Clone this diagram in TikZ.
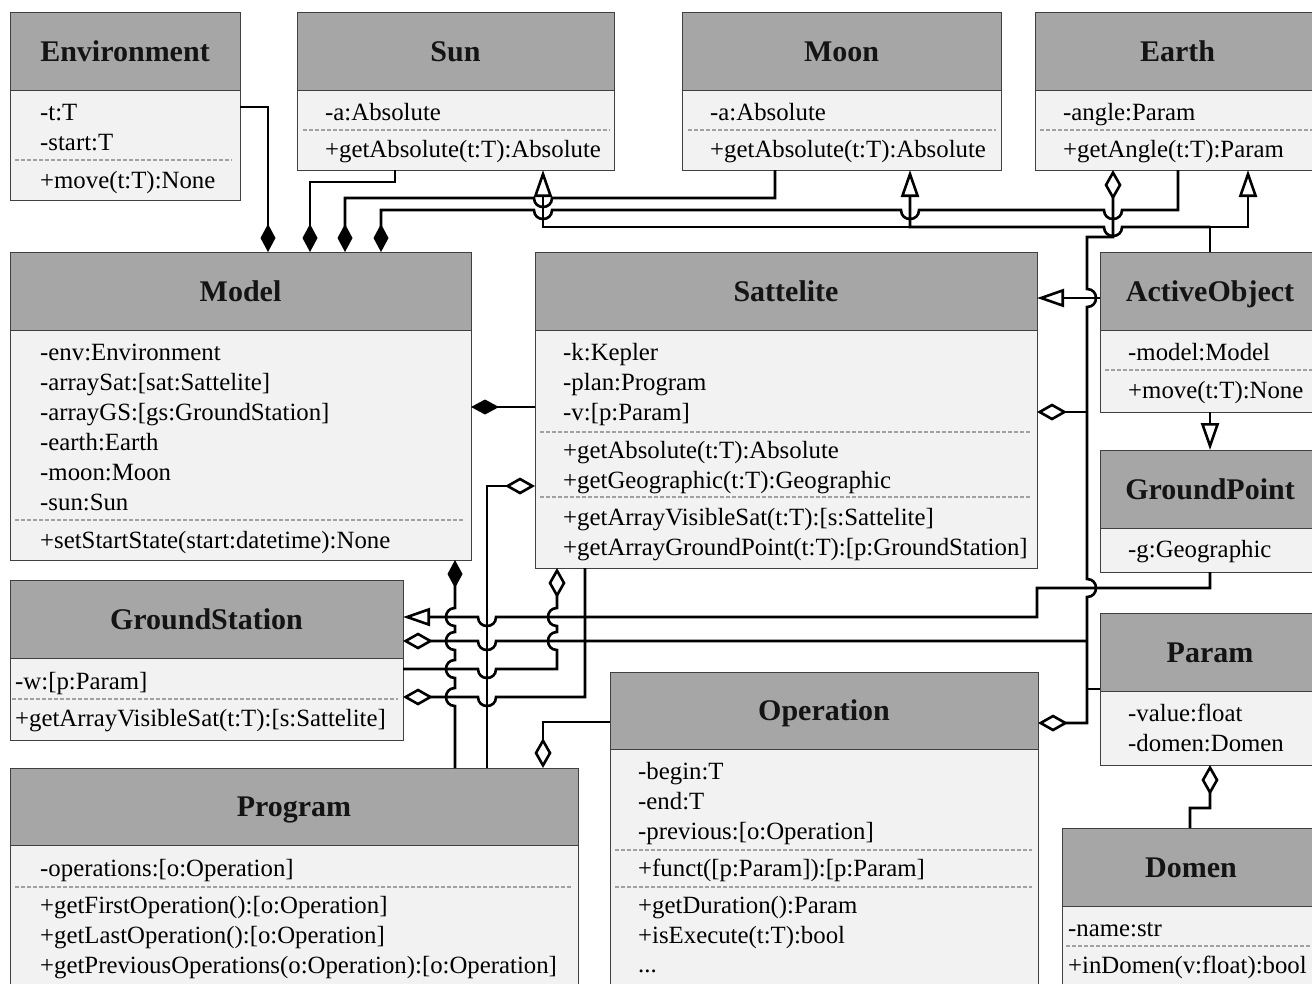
\documentclass[tikz,border=0pt]{standalone}
\usepackage{fontspec}
\setmainfont{Liberation Serif}
\usetikzlibrary{arrows.meta}
\definecolor{hdrgray}{HTML}{A6A6A6}
\definecolor{bodygray}{HTML}{F2F2F2}
\definecolor{edgegray}{HTML}{404040}
\definecolor{dashgray}{HTML}{A0A0A0}
\tikzset{
 FDia/.tip={Diamond[length=28bp,width=15bp]},
 ODia/.tip={Diamond[open,fill=white,length=30bp,width=17bp]},
 OTri/.tip={Triangle[open,fill=white,length=27bp,width=18bp]},
 hdr/.style={draw=edgegray, line width=1bp, fill=hdrgray, inner sep=0pt, outer sep=0pt,
   font=\fontsize{30bp}{33bp}\selectfont\bfseries, text height=20bp, text depth=0pt, text=black!92},
 bdy/.style={draw=edgegray, line width=1bp, fill=bodygray, inner sep=0pt, outer sep=0pt},
 attr/.style={anchor=base west, inner sep=0pt, font=\fontsize{24.8bp}{28bp}\selectfont},
 sepline/.style={dashgray, line width=1.5bp, dash pattern=on 4bp off 2bp},
 conn/.style={black, line width=2.6bp},
 hl/.style 2 args={insert path={-- (#1+9,#2) .. controls (#1+9,#2+12) and (#1-9,#2+12) .. (#1-9,#2)}},
 vdl/.style 2 args={insert path={-- (#1,#2-9) .. controls (#1-12,#2-9) and (#1-12,#2+9) .. (#1,#2+9)}},
 vdr/.style 2 args={insert path={-- (#1,#2-9) .. controls (#1+12,#2-9) and (#1+12,#2+9) .. (#1,#2+9)}},
}
\newcommand\umlclass[7]{%
 \node[hdr, anchor=north west, minimum width=#4bp, minimum height=#5bp] (#1H) at (#2,#3) {#7};
 \node[bdy, anchor=north, minimum width=#4bp, minimum height=#6bp] (#1B) at (#1H.south) {};
}
\newcommand\attrline[4]{\node[attr] (#1) at (#2,#3+8) {#4};}
\newcommand\dashsep[3]{\draw[sepline] (#1,#3) -- (#2,#3);}
\begin{document}
\begin{tikzpicture}[x=1bp,y=-1bp]
\useasboundingbox (0,0) rectangle (1312,983);
\clip (0,0) rectangle (1312,983);
\fill[white] (0,0) rectangle (1312,983);

% classes
\umlclass{env}{10}{12}{230}{78}{110}{Environment}
\umlclass{sun}{297}{12}{317}{78}{80}{Sun}
\umlclass{moon}{682}{12}{319}{78}{80}{Moon}
\umlclass{earth}{1035}{12}{285}{78}{80}{Earth}
\umlclass{model}{10}{252}{461}{78}{230}{Model}
\umlclass{sat}{535}{252}{502}{78}{238}{Sattelite}
\umlclass{act}{1100}{252}{220}{78}{82}{ActiveObject}
\umlclass{gp}{1100}{450}{220}{78}{44}{GroundPoint}
\umlclass{gs}{10}{580}{393}{78}{82}{GroundStation}
\umlclass{param}{1100}{613}{220}{78}{74}{Param}
\umlclass{op}{610}{672}{428}{77}{251}{Operation}
\umlclass{prog}{10}{768}{568}{77}{155}{Program}
\umlclass{dom}{1062}{828}{258}{78}{94}{Domen}

% Environment
\attrline{envA}{40}{112}{-t:T}
\attrline{envB2}{40}{142}{-start:T}
\dashsep{15}{232}{160}
\attrline{envM}{40}{180}{+move(t:T):None}
% Sun
\attrline{sunA}{325}{112}{-a:Absolute}
\dashsep{303}{610}{130}
\attrline{sunM}{325}{149}{+getAbsolute(t:T):Absolute}
% Moon
\attrline{moonA}{710}{112}{-a:Absolute}
\dashsep{688}{996}{130}
\attrline{moonM}{710}{149}{+getAbsolute(t:T):Absolute}
% Earth
\attrline{earthA}{1063}{112}{-angle:Param}
\dashsep{1040}{1312}{130}
\attrline{earthM}{1063}{149}{+getAngle(t:T):Param}
% Model
\attrline{modelA1}{40}{352}{-env:Environment}
\attrline{modelA2}{40}{382}{-arraySat:[sat:Sattelite]}
\attrline{modelA3}{40}{412}{-arrayGS:[gs:GroundStation]}
\attrline{modelA4}{40}{442}{-earth:Earth}
\attrline{modelA5}{40}{472}{-moon:Moon}
\attrline{modelA6}{40}{502}{-sun:Sun}
\dashsep{15}{465}{520}
\attrline{modelM1}{40}{540}{+setStartState(start:datetime):None}
% Sattelite
\attrline{satA1}{563}{352}{-k:Kepler}
\attrline{satA2}{563}{382}{-plan:Program}
\attrline{satA3}{563}{412}{-v:[p:Param]}
\dashsep{540}{1030}{432}
\attrline{satM1}{563}{450}{+getAbsolute(t:T):Absolute}
\attrline{satM2}{563}{480}{+getGeographic(t:T):Geographic}
\dashsep{540}{1030}{497}
\attrline{satM3}{563}{517}{+getArrayVisibleSat(t:T):[s:Sattelite]}
\attrline{satM4}{563}{547}{+getArrayGroundPoint(t:T):[p:GroundStation]}
% ActiveObject
\attrline{actA}{1128}{352}{-model:Model}
\dashsep{1105}{1312}{370}
\attrline{actM}{1128}{390}{+move(t:T):None}
% GroundPoint
\attrline{gpA}{1128}{549}{-g:Geographic}
% GroundStation
\attrline{gsA}{15}{681}{-w:[p:Param]}
\dashsep{12}{398}{699}
\attrline{gsM}{15}{718}{+getArrayVisibleSat(t:T):[s:Sattelite]}
% Param
\attrline{paramA1}{1128}{713}{-value:float}
\attrline{paramA2}{1128}{743}{-domen:Domen}
% Operation
\attrline{opA1}{638}{771}{-begin:T}
\attrline{opA2}{638}{801}{-end:T}
\attrline{opA3}{638}{831}{-previous:[o:Operation]}
\dashsep{615}{1032}{850}
\attrline{opM1}{638}{868}{+funct([p:Param]):[p:Param]}
\dashsep{615}{1032}{887}
\attrline{opM2}{638}{905}{+getDuration():Param}
\attrline{opM3}{638}{935}{+isExecute(t:T):bool}
\attrline{opM4}{638}{964}{...}
% Program
\attrline{progA1}{40}{868}{-operations:[o:Operation]}
\dashsep{15}{572}{887}
\attrline{progM1}{40}{905}{+getFirstOperation():[o:Operation]}
\attrline{progM2}{40}{935}{+getLastOperation():[o:Operation]}
\attrline{progM3}{40}{965}{+getPreviousOperations(o:Operation):[o:Operation]}
% Domen
\attrline{domA}{1068}{928}{-name:str}
\dashsep{1066}{1312}{946}
\attrline{domM}{1068}{965}{+inDomen(v:float):bool}

% ---- connectors ----
% compositions into Model (top)
\draw[conn,-{FDia}] (envB.east |- 0,107) -| (modelH.north -| 268,0);
\draw[conn,-{FDia}] (sunB.south -| 395,0) |- (310,182) -- (modelH.north -| 310,0);
\draw[conn,-{FDia}] (moonB.south -| 775,0) -- (775,198) [hl={543}{198}] -- (345,198) -- (modelH.north -| 345,0);
\draw[conn,-{FDia}] (earthB.south -| 1178,0) -- (1178,210) [hl={1113}{210}] [hl={910}{210}] [hl={543}{210}] -- (381,210) -- (modelH.north -| 381,0);
% generalisations ActiveObject -> Sun, Moon, Earth
\draw[conn,-{OTri}] (actH.north -| 1210,0) -- (1210,227) -- (1248,227) -- (earthB.south -| 1248,0);
\draw[conn,-{OTri}] (1210,227) [hl={1113}{227}] -- (910,227) -- (moonB.south -| 910,0);
\draw[conn,-{OTri}] (910,227) -- (543,227) -- (sunB.south -| 543,0);
% Param aggregations (bus at x=1087)
\draw[conn,{ODia}-{ODia}] (earthB.south -| 1113,0) |- (1087,237) [vdr={1087}{298}] [vdr={1087}{588}] -- (1087,723) -- (opH.east |- 0,723);
\draw[conn,-{ODia}] (1087,412) -- (satB.east |- 0,412);
\draw[conn] (1087,689) -- (paramH.west |- 0,689);
\draw[conn,-{ODia}] (1087,641) [hl={487}{641}] -- (gsH.east |- 0,641);
% ActiveObject -> Sattelite, GroundPoint
\draw[conn,-{OTri}] (actH.west |- 0,298) -- (satH.east |- 0,298);
\draw[conn,-{OTri}] (actB.south) -- (gpH.north);
% GroundPoint -> GroundStation
\draw[conn,-{OTri}] (gpB.south) |- (1037,588) -- (1037,617) [hl={487}{617}] -- (gsH.east |- 0,617);
% Sattelite -> Model
\draw[conn,-{FDia}] (satB.west |- 0,407) -- (modelB.east |- 0,407);
% Program -> Sattelite
\draw[conn,{ODia}-] (satB.west |- 0,486) -| (progH.north -| 487,0);
% Program -> Model
\draw[conn,{FDia}-] (modelB.south -| 455,0) [vdl={455}{617}] [vdl={455}{641}] [vdl={455}{669}] [vdl={455}{697}] -- (progH.north -| 455,0);
% GroundStation -> Sattelite
\draw[conn,{ODia}-] (satB.south -| 557,0) [vdl={557}{617}] [vdl={557}{641}] -- (557,669) [hl={487}{669}] -- (gsB.east |- 0,669);
% Sattelite -> GroundStation
\draw[conn,-{ODia}] (satB.south -| 585,0) -- (585,697) [hl={487}{697}] -- (gsB.east |- 0,697);
% Operation -> Program
\draw[conn,-{ODia}] (opH.west |- 0,722) -| (progH.north -| 543,0);
% Domen -> Param
\draw[conn,{ODia}-] (paramB.south) -- (1210,808) -| (domH.north -| 1190,0);
\end{tikzpicture}
\end{document}
